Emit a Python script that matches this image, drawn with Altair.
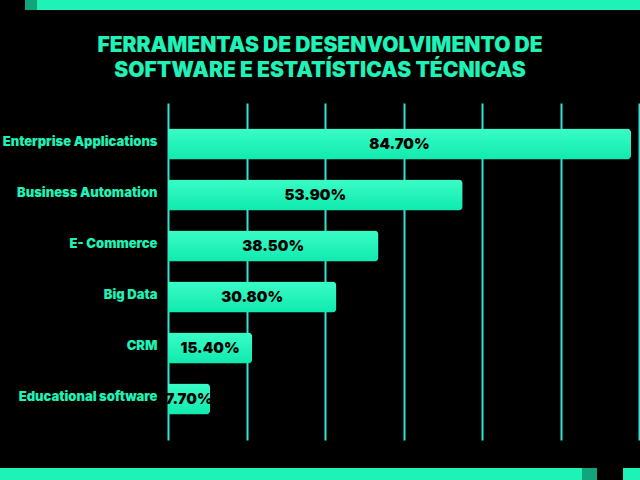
import altair as alt
import pandas as pd

categories = ["Enterprise Applications", "Business Automation", "E- Commerce",
              "Big Data", "CRM", "Educational software"]
values = [84.7, 53.9, 38.5, 30.8, 15.4, 7.7]
labels = ["84.70%", "53.90%", "38.50%", "30.80%", "15.40%", "7.70%"]
grid_ticks = [0, 14.36, 28.72, 43.08, 57.44, 71.8, 86.16]
x_max = 86.16
title_lines = ["FERRAMENTAS DE DESENVOLVIMENTO DE", "SOFTWARE E ESTATÍSTICAS TÉCNICAS"]

df = pd.DataFrame({"cat": categories, "val": values, "lab": labels})

GREEN = "#1ff2b6"
FONT = "Inter"

x_scale = alt.Scale(domain=[0, x_max], nice=False, zero=True)
y_scale = alt.Scale(domain=categories, paddingInner=0.39, paddingOuter=0.5)

base = alt.Chart(df)

bars = base.mark_bar(
    cornerRadiusEnd=4,
    color=alt.Gradient(
        gradient="linear",
        stops=[alt.GradientStop(color="#3afcc6", offset=0),
               alt.GradientStop(color="#10eaae", offset=1)],
        x1=0, x2=0, y1=0, y2=1,
    ),
).encode(
    x=alt.X("val:Q", scale=x_scale,
            axis=alt.Axis(values=grid_ticks, grid=True, gridColor="#2fe3d2",
                          gridWidth=2, labels=False, ticks=False, domain=False,
                          title=None)),
    y=alt.Y("cat:N", scale=y_scale, sort=categories,
            axis=alt.Axis(labelColor=GREEN, labelFont=FONT, labelFontWeight=900,
                          labelFontSize=13, labelPadding=11, ticks=False,
                          domain=False, title=None, labelLimit=300, labelOffset=-2)),
)

text = base.transform_calculate(mid="datum.val / 2").mark_text(
    font=FONT, fontWeight=900, fontSize=15, color="#000000", baseline="middle",
).encode(
    x=alt.X("mid:Q", scale=x_scale),
    y=alt.Y("cat:N", scale=y_scale, sort=categories),
    text="lab:N",
)

deco = pd.DataFrame({"d": [0]})
dbase = alt.Chart(deco)
title = dbase.mark_text(
    text=title_lines, font=FONT, fontWeight=900, fontSize=21, color=GREEN,
    align="center", baseline="middle", lineHeight=25,
).encode(x=alt.value(152), y=alt.value(-57))
top_bar = dbase.mark_rect(color="#1ff2b6").encode(
    x=alt.value(-131), x2=alt.value(472), y=alt.value(-103), y2=alt.value(-93))
top_sq = dbase.mark_rect(color="#12a57c").encode(
    x=alt.value(-143), x2=alt.value(-131), y=alt.value(-103), y2=alt.value(-93))
bot_bar = dbase.mark_rect(color="#1ff2b6").encode(
    x=alt.value(-168), x2=alt.value(414), y=alt.value(365), y2=alt.value(377))
bot_sq = dbase.mark_rect(color="#12a57c").encode(
    x=alt.value(414), x2=alt.value(429), y=alt.value(365), y2=alt.value(377))
bot_end = dbase.mark_rect(color="#1ff2b6").encode(
    x=alt.value(455), x2=alt.value(472), y=alt.value(365), y2=alt.value(377))

chart = alt.layer(bars, text, title, top_bar, top_sq, bot_bar, bot_sq, bot_end).properties(
    width=471, height=337,
    autosize=alt.AutoSizeParams(type="none"),
    padding={"left": 168, "top": 103, "right": 1, "bottom": 40},
    background="#000000",
).configure_view(stroke=None)

chart.save("out.html", embed_options={"renderer": "svg", "actions": False})
